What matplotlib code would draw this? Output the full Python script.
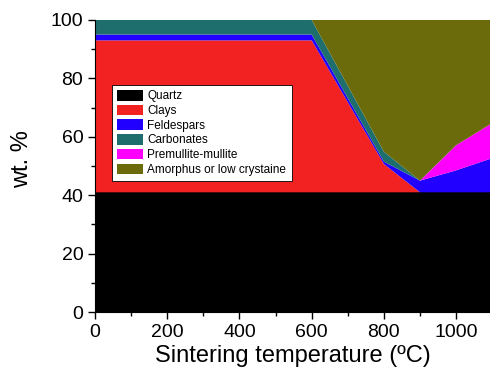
import numpy as np
import matplotlib.pyplot as plt
from matplotlib.ticker import MultipleLocator

plt.rcParams['font.family'] = ['Liberation Sans', 'DejaVu Sans']

temps = [0, 600, 800, 900, 1000, 1100]
quartz = [41, 41, 41, 41, 41, 41]
clays = [52, 52, 9.7, 0, 0, 0]
feldespars = [2, 2, 0.8, 4, 7.5, 11.7]
carbonates = [5, 5, 3.4, 0, 0, 0]
premullite = [0, 0, 0, 0, 8.6, 12]
amorphous = [0, 0, 45.1, 55, 42.9, 35.3]

labels = ['Quartz', 'Clays', 'Feldespars', 'Carbonates',
          'Premullite-mullite', 'Amorphus or low crystaine']
colors = ['#000000', '#f22222', '#2200ff', '#1e6e6e', '#ff00ff', '#6b6b0b']

fig = plt.figure(figsize=(4.9, 3.76), dpi=100)
ax = fig.add_axes([0.194, 0.170, 0.806, 0.777])

ax.stackplot(temps, quartz, clays, feldespars, carbonates, premullite, amorphous,
             colors=colors, labels=labels, linewidth=0)

ax.set_xlim(0, 1094)
ax.set_ylim(0, 100)
ax.xaxis.set_major_locator(MultipleLocator(200))
ax.xaxis.set_minor_locator(MultipleLocator(100))
ax.yaxis.set_major_locator(MultipleLocator(20))
ax.yaxis.set_minor_locator(MultipleLocator(10))
ax.tick_params(which='both', direction='out', labelsize=14, width=1)
ax.tick_params(which='major', length=5)
ax.tick_params(which='minor', length=3)
ax.spines['top'].set_visible(False)
ax.spines['right'].set_visible(False)

ax.set_xlabel('Sintering temperature (ºC)', fontsize=17, labelpad=3)
ax.set_ylabel('wt. %', fontsize=17)
ax.yaxis.set_label_coords(-0.157, 0.524)

leg = ax.legend(loc='upper left', bbox_to_anchor=(0.043, 0.778), fontsize=8.5,
                fancybox=False, framealpha=1, edgecolor='black',
                handlelength=2.2, handleheight=1.0, labelspacing=0.2,
                handletextpad=0.35, borderpad=0.45, borderaxespad=0)
leg.get_frame().set_linewidth(0.6)

fig.savefig('out.png', dpi=100)
